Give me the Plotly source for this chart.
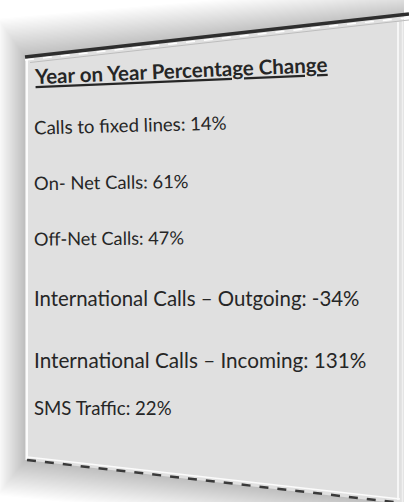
import plotly.graph_objects as go

# Contenido de la tarjeta
TITULO = "Year on Year Percentage Change"
metricas = [
    "Calls to fixed lines",
    "On- Net Calls",
    "Off-Net Calls",
    "International Calls – Outgoing",
    "International Calls – Incoming",
    "SMS Traffic",
]
variacion_pct = [14, 61, 47, -34, 131, 22]

# Posición de cada renglón (px desde arriba), tamaño y giro de la letra
FILAS_Y = [125, 182, 238, 298, 360, 408]
FILAS_SIZE = [18.6, 18.4, 18.2, 20.4, 20.7, 18.6]
FILAS_ANG = [-1.5, -0.8, -0.5, 0, 0, 0]

W, H = 409, 502
COLOR_TEXTO = "#262626"
COLOR_TARJETA = "#e0e0e0"
FUENTE = "Lato, Open Sans, sans-serif"

# Esquinas de la tarjeta (perspectiva)
TL, TR, BR, BL = (25, 57), (404, 16), (404, 504), (25, 460)


def poligono(pts):
    return "M " + " L ".join(f"{x},{y}" for x, y in pts) + " Z"


fig = go.Figure()
fig.add_trace(go.Scatter(x=[0, W], y=[0, H], mode="markers",
                         marker=dict(opacity=0), hoverinfo="skip", showlegend=False))

shapes = []

# --- Sombra difusa (capas) ---
for k in range(32, 0, -1):
    shapes.append(dict(
        type="path", xref="x", yref="y", layer="below",
        path=poligono([(TL[0] - k * 0.85, TL[1] - k * 1.2), (TR[0], TR[1] - k * 1.0),
                       (BR[0], BR[1] + k), (BL[0] - k * 0.85, BL[1] + k * 1.1)]),
        fillcolor="rgba(70,70,70,0.010)", line=dict(width=0),
    ))

# --- Cuerpo de la tarjeta ---
shapes.append(dict(type="path", xref="x", yref="y", layer="below",
                   path=poligono([TL, TR, BR, BL]),
                   fillcolor=COLOR_TARJETA, line=dict(width=0)))

# bordes laterales claros
shapes.append(dict(type="line", xref="x", yref="y", x0=27, y0=59, x1=27, y1=459,
                   line=dict(color="#fbfbfb", width=2)))
shapes.append(dict(type="line", xref="x", yref="y", x0=398, y0=22, x1=398, y1=500,
                   line=dict(color="#f6f6f6", width=2)))
shapes.append(dict(type="line", xref="x", yref="y", x0=402.5, y0=18, x1=402.5, y1=502,
                   line=dict(color="#f0f0f0", width=1.5)))

# borde superior oscuro y línea clara debajo
shapes.append(dict(type="line", xref="x", yref="y", x0=TL[0], y0=TL[1], x1=W, y1=14,
                   line=dict(color="#2e2e2e", width=3.5)))
shapes.append(dict(type="line", xref="x", yref="y", x0=TL[0], y0=TL[1] + 3, x1=W, y1=17.5,
                   line=dict(color="#ffffff", width=1.5, dash="dash")))
shapes.append(dict(type="line", xref="x", yref="y", x0=TL[0] + 5, y0=TL[1] + 5.5, x1=W, y1=20,
                   line=dict(color="#bdbdbd", width=1)))

# borde inferior discontinuo
shapes.append(dict(type="line", xref="x", yref="y", x0=27, y0=BL[1] - 3, x1=400, y1=499,
                   line=dict(color="#fbfbfb", width=1.5)))
shapes.append(dict(type="line", xref="x", yref="y", x0=27, y0=BL[1], x1=402, y1=503,
                   line=dict(color="#3a3a3a", width=2.5, dash="dash")))

annotations = [dict(
    x=32, y=70, xref="x", yref="y", xanchor="left", yanchor="middle",
    text=f"<b>{TITULO}</b>", showarrow=False, textangle=-2.4,
    font=dict(family=FUENTE, size=20.5, color=COLOR_TEXTO, lineposition="under"),
)]

for nombre, valor, y, tam, ang in zip(metricas, variacion_pct, FILAS_Y, FILAS_SIZE, FILAS_ANG):
    annotations.append(dict(
        x=32, y=y, xref="x", yref="y", xanchor="left", yanchor="middle",
        text=f"{nombre}: {valor}%", showarrow=False, textangle=ang,
        font=dict(family=FUENTE, size=tam, color=COLOR_TEXTO),
    ))

fig.update_layout(
    width=W, height=H,
    margin=dict(l=0, r=0, t=0, b=0),
    paper_bgcolor="white", plot_bgcolor="white",
    xaxis=dict(range=[0, W], visible=False, fixedrange=True),
    yaxis=dict(range=[H, 0], visible=False, fixedrange=True),
    shapes=shapes, annotations=annotations,
    showlegend=False,
)

fig.write_html("out.html", config={"displayModeBar": False},
               post_script="document.body.style.margin='0';")
